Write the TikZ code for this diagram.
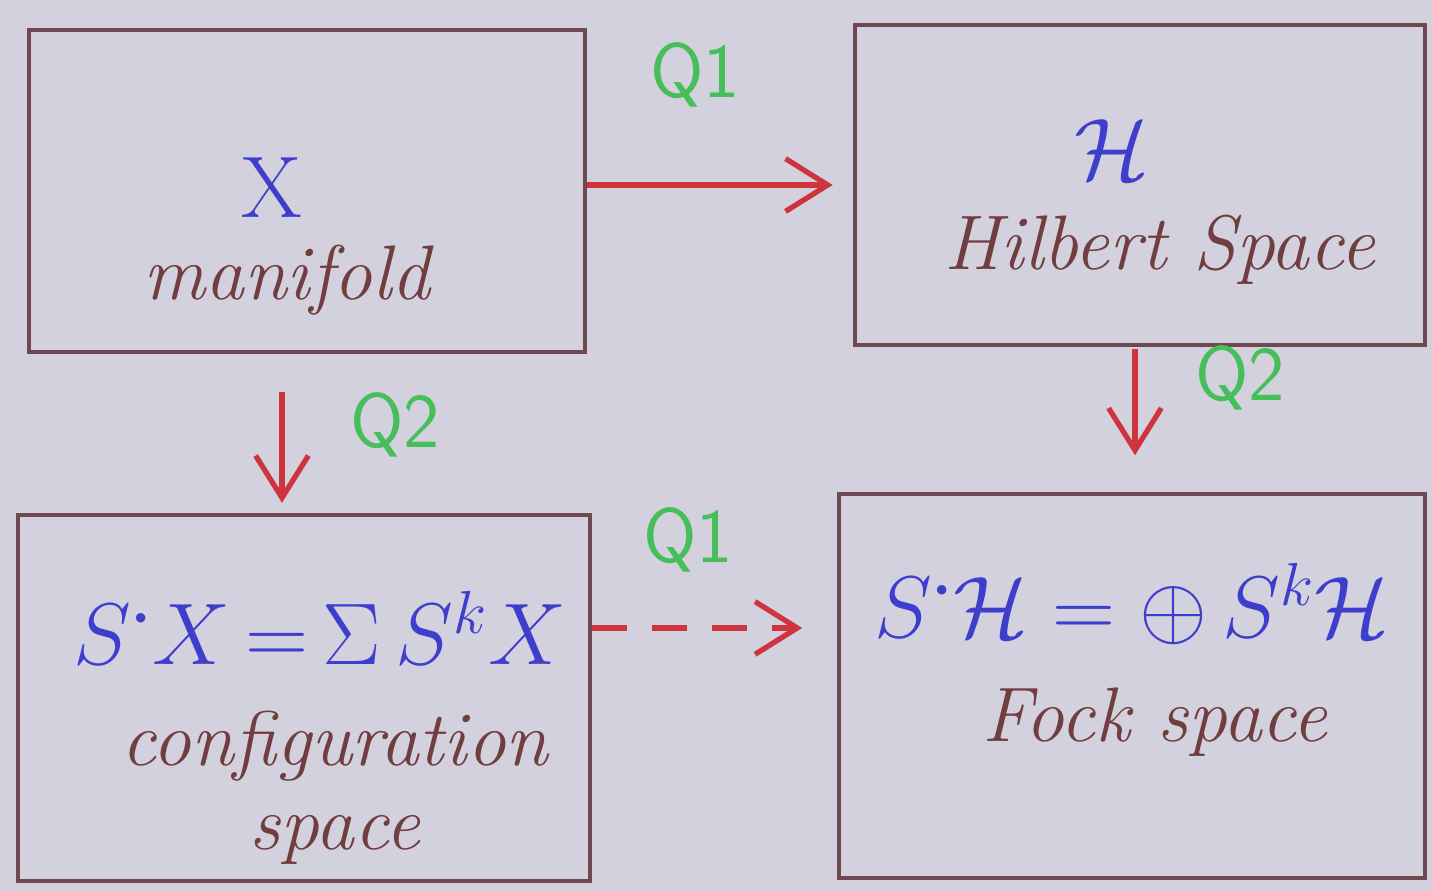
\documentclass[tikz,border=0pt]{standalone}
\usepackage{amsmath}
\usetikzlibrary{arrows.meta}
\definecolor{bgc}{RGB}{212,209,222}
\definecolor{boxc}{RGB}{112,72,82}
\definecolor{inkblue}{RGB}{62,62,205}
\definecolor{inkgreen}{RGB}{70,190,90}
\definecolor{inkred}{RGB}{205,52,62}
\definecolor{inkbrown}{RGB}{112,62,62}
\tikzset{
  box/.style={draw=boxc, line width=1.2pt, minimum width=#1, inner sep=0pt},
  math/.style={text=inkblue, inner sep=0pt},
  word/.style={text=inkbrown, font=\fontsize{22}{26}\selectfont\itshape, inner sep=0pt},
  qlab/.style={text=inkgreen, font=\fontsize{22}{26}\selectfont\sffamily, inner sep=0pt},
  maparrow/.style={draw=inkred, line width=1.5pt, -{Straight Barb[length=12pt,width=15pt,line width=1.5pt]}}
}
\begin{document}
\begin{tikzpicture}[x=0.01cm,y=-0.01cm]
\fill[bgc] (0,0) rectangle (1432,891);
\useasboundingbox (0,0) rectangle (1432,891);
% boxes
\node[box=5.55cm, minimum height=3.22cm] (A) at (307,191) {};
\node[box=5.70cm, minimum height=3.20cm] (B) at (1140,185) {};
\node[box=5.72cm, minimum height=3.66cm] (C) at (304,698) {};
\node[box=5.85cm, minimum height=3.83cm] (D) at (1132,686) {};
% contents
\node[math, font=\fontsize{32}{38}\selectfont] (xa) at (272,188) {$\mathrm{X}$};
\node[word] (wa) at (287,280) {manifold};
\node[math, font=\fontsize{34}{40}\selectfont] (hb) at (1112,150) {$\mathcal{H}$};
\node[word] (wb) at (1160,250) {Hilbert Space};
\node[math, font=\fontsize{24}{28}\selectfont] (fc) at (320,628) {$S^{\boldsymbol{\cdot}}X\,{=}\,\Sigma\, S^{k}X$};
\node[word, align=center] (wc) at (335,788) {configuration\\[-2pt]space};
\node[math, font=\fontsize{26}{30}\selectfont] (fd) at (1132,604) {$S^{\boldsymbol{\cdot}}\mathcal{H}=\oplus\, S^{k}\mathcal{H}$};
\node[word] (wd) at (1155,722) {Fock space};
% arrows
\draw[maparrow] ([yshift=0.06cm]A.east) -- ([yshift=0.06cm]A.east -| B.west) [shorten >=0.2cm] ;
\draw[maparrow, shorten <=0.38cm, shorten >=0.1cm] ([xshift=-0.25cm]A.south) -- ([xshift=-0.25cm]A.south |- C.north);
\draw[maparrow, shorten <=0.02cm, shorten >=0.37cm] ([xshift=-0.05cm]B.south) -- ([xshift=-0.05cm]B.south |- D.north);
\draw[maparrow, dashed, dash pattern=on 10pt off 7pt] ([yshift=0.7cm]C.east) -- ([yshift=0.7cm]C.east -| D.west) [shorten >=0.35cm];
% labels
\node[qlab] (q1a) at (695,75) {Q1};
\node[qlab] (q2a) at (395,425) {Q2};
\node[qlab] (q2b) at (1240,378) {Q2};
\node[qlab] (q1b) at (688,540) {Q1};
\end{tikzpicture}
\end{document}
